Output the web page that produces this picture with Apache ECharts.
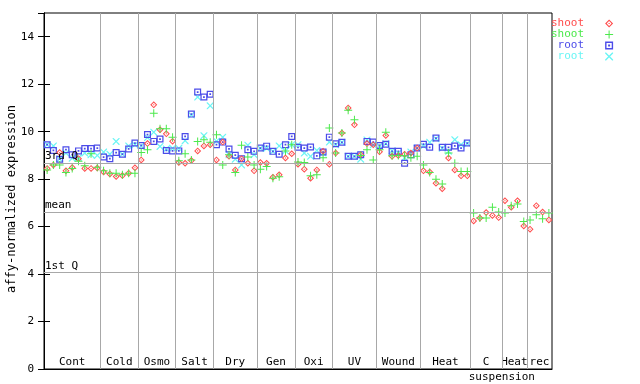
<!DOCTYPE html>
<html>
<head>
<meta charset="utf-8">
<script src="https://cdn.jsdelivr.net/npm/echarts@6/dist/echarts.min.js"></script>
<style>html,body{margin:0;padding:0;background:#fff}#c{width:640px;height:384px}</style>
</head>
<body>
<div id="c"></div>
<script>
// ---- data ----
const groups = ['Cont','Cold','Osmo','Salt','Dry','Gen','Oxi','UV','Wound','Heat','C','Heat','rec'];
const groupSizes = [9,6,6,6,7,6,6,7,7,8,5,4,4];
const subLabel = 'suspension';           // second line under "C"
const refNames = ['3rd Q','mean','1st Q'];
const refValues = [8.68, 6.61, 4.08];
const legendNames = ['shoot','shoot','root','root'];

const shootRed = [
  8.45,8.6,9.12,8.35,8.49,8.86,8.45,8.45,8.47,
  8.30,8.22,8.11,8.15,8.25,8.48,
  8.81,9.5,11.13,10.08,9.91,9.6,
  8.70,8.67,8.78,9.19,9.40,9.45,
  8.81,9.56,8.96,8.39,8.86,8.67,8.35,
  8.70,8.67,8.08,8.18,8.89,9.07,
  8.63,8.42,8.04,8.39,9.18,8.63,
  9.10,9.94,11.0,10.29,9.03,9.5,9.45,
  9.15,9.84,8.96,9.0,9.05,9.1,9.31,
  8.35,8.30,7.83,7.60,8.89,8.39,8.14,8.14,
  6.24,6.36,6.59,6.47,6.38,
  7.09,6.82,7.09,6.03,
  5.89,6.88,6.61,6.28
];
const shootGreen = [
  8.39,8.6,8.6,8.28,8.45,8.75,8.56,9.07,8.5,
  8.35,8.25,8.25,8.18,8.25,8.25,
  9.12,9.24,10.78,10.12,10.12,9.77,
  8.77,9.07,8.81,9.59,9.66,9.55,
  9.87,8.60,9.03,8.28,9.43,8.93,8.60,
  8.42,8.53,8.04,8.10,9.19,9.45,
  8.72,8.70,8.14,8.18,8.9,10.15,
  9.1,9.94,10.9,10.50,9.0,9.24,8.81,
  9.24,9.98,8.98,9.0,8.98,8.9,8.96,
  8.60,8.28,8.00,7.80,9.10,8.67,8.32,8.32,
  6.57,6.36,6.36,6.82,6.61,
  6.57,6.88,6.95,6.21,
  6.28,6.50,6.33,6.57
];
const rootBlue = [
  9.45,9.21,8.84,9.24,9.03,9.19,9.29,9.29,9.31,
  8.93,8.86,9.12,9.05,9.27,9.52,
  9.42,9.88,9.59,9.69,9.21,9.19,
  9.19,9.80,10.74,11.67,11.46,11.58,
  9.45,9.56,9.27,9.01,8.86,9.24,9.17,
  9.31,9.39,9.17,9.05,9.45,9.80,
  9.34,9.31,9.35,8.98,9.14,9.77,
  9.49,9.55,8.96,8.96,9.03,9.59,9.56,
  9.42,9.47,9.17,9.17,8.67,9.03,9.31,
  9.47,9.34,9.73,9.34,9.34,9.40,9.31,9.52,
  null,null,null,null,null,
  null,null,null,null,
  null,null,null,null
];
const rootCyan = [
  9.45,9.40,8.85,9.1,8.88,8.9,9.1,9.03,9.0,
  9.14,9.05,9.59,9.05,9.40,9.45,
  9.4,9.75,9.98,9.38,9.27,9.3,
  9.3,9.62,10.7,11.46,9.83,11.09,
  9.6,9.77,9.03,8.84,8.60,9.43,9.03,
  9.3,9.3,9.17,9.40,9.19,9.45,
  9.45,9.10,8.96,9.21,9.10,9.56,
  9.45,9.55,8.96,8.96,8.84,9.65,9.45,
  9.4,9.5,9.2,9.1,8.9,9.14,9.3,
  9.4,9.55,9.7,9.3,9.17,9.66,9.45,9.5,
  null,null,null,null,null,
  null,null,null,null,
  null,null,null,null
];

// ---- build ----
const FONT = 'DejaVu Sans Mono';
const total = groupSizes.reduce((a,b)=>a+b,0);
const bounds = []; const centers = {};
let acc = 0;
groupSizes.forEach((n,i)=>{ centers[(acc + n/2).toFixed(1)] = groups[i]; acc += n; if (acc < total) bounds.push(acc); });
let cStart = 0; for (let i=0;i<groups.indexOf('C');i++) cStart += groupSizes[i];
const subPos = (cStart + groupSizes[groups.indexOf('C')]).toFixed(1);

const toPts = arr => arr.map((v,i)=> v==null ? null : [i+0.5, v]).filter(p=>p);

const P_DIAMOND = 'path://M4 0L8 4L4 8L0 4Z M4 1.6L1.6 4L4 6.4L6.4 4Z M3.4 3.4L4.6 3.4L4.6 4.6L3.4 4.6Z';
const P_PLUS = 'path://M3.5 0H4.5V3.5H8V4.5H4.5V8H3.5V4.5H0V3.5H3.5Z';
const P_SQUARE = 'path://M0 0H8V8H0Z M1.4 1.4V6.6H6.6V1.4Z M3 3H5V5H3Z';
const P_X = 'path://M0 0L1 0L4 3L7 0L8 0L8 1L5 4L8 7L8 8L7 8L4 5L1 8L0 8L0 7L3 4L0 1Z';

const RED='#ff4c4c', GREEN='#4ce94c', BLUE='#4c4ce9', CYAN='#6cf5f5', GRAY='#a8a8a8';
const names = ['shoot','shoot ','root','root '];

const chart = echarts.init(document.getElementById('c'), null, {renderer:'canvas'});
chart.setOption({
  animation:false,
  backgroundColor:'#fff',
  grid:{left:44, right:88, top:13, bottom:15, outerBoundsMode:'none', containLabel:false,
        show:true, borderColor:'#000', borderWidth:1, backgroundColor:'transparent'},
  legend:{
    orient:'vertical', left:551, top:18, itemWidth:40, itemHeight:8, itemGap:0, align:'right',
    selectedMode:false, padding:0,
    textStyle:{fontFamily:FONT, fontSize:11, lineHeight:11},
    data:[
      {name:names[0], textStyle:{color:RED}},
      {name:names[1], textStyle:{color:GREEN}},
      {name:names[2], textStyle:{color:BLUE}},
      {name:names[3], textStyle:{color:CYAN}}
    ],
    formatter: n => n.trim()
  },
  xAxis:[{
    type:'value', min:0, max:total, interval:0.5,
    axisLine:{show:true, lineStyle:{color:'#000'}},
    axisTick:{show:false}, splitLine:{show:false},
    axisLabel:{inside:true, margin:1, color:'#000', fontFamily:FONT, fontSize:11,
      showMinLabel:true, showMaxLabel:true,
      formatter: v => centers[v.toFixed(1)] || ''}
  },{
    type:'value', min:0, max:total, interval:0.5, position:'bottom',
    axisLine:{show:false}, axisTick:{show:false}, splitLine:{show:false},
    axisLabel:{margin:3, color:'#000', fontFamily:FONT, fontSize:11,
      formatter: v => v.toFixed(1)===subPos ? subLabel : ''}
  }],
  yAxis:[{
    type:'value', min:0, max:15, interval:2, position:'left',
    name:'affy-normalized expression', nameLocation:'middle', nameGap:26, nameMoveOverlap:false,
    nameTextStyle:{fontFamily:FONT, fontSize:12, color:'#000', padding:[0,16,0,0]},
    axisLine:{show:true, lineStyle:{color:'#000'}},
    axisTick:{show:true, inside:true, length:6, lineStyle:{color:'#000'}},
    splitLine:{show:false},
    axisLabel:{margin:10, color:'#000', fontFamily:FONT, fontSize:11, showMaxLabel:false}
  },{
    type:'value', min:0, max:15, interval:2, position:'right',
    axisLine:{show:true, lineStyle:{color:'#000'}},
    axisTick:{show:true, inside:true, length:6, lineStyle:{color:'#000'}},
    splitLine:{show:false}, axisLabel:{show:false}
  }],
  series:[
    {type:'scatter', name:'_ref', data:[], z:1, silent:true,
     markLine:{silent:true, symbol:'none', animation:false,
       lineStyle:{color:GRAY, width:1, type:'solid'},
       data:[
         ...bounds.map(b=>({xAxis:b, label:{show:false}})),
         ...refValues.map((v,i)=>({yAxis:v, label:{show:true, position:'insideStartTop', formatter:refNames[i],
            color:'#000', fontFamily:FONT, fontSize:11, distance:[1,1]}}))
       ]}},
    {type:'scatter', name:names[3], data:toPts(rootCyan), symbol:P_X, symbolSize:7, symbolKeepAspect:true, itemStyle:{color:CYAN, opacity:1}},
    {type:'scatter', name:names[2], data:toPts(rootBlue), symbol:P_SQUARE, symbolSize:7, symbolKeepAspect:true, itemStyle:{color:BLUE, opacity:1}},
    {type:'scatter', name:names[0], data:toPts(shootRed), symbol:P_DIAMOND, symbolSize:7, symbolKeepAspect:true, itemStyle:{color:RED, opacity:1}},
    {type:'scatter', name:names[1], data:toPts(shootGreen), symbol:P_PLUS, symbolSize:8, symbolKeepAspect:true, itemStyle:{color:GREEN, opacity:1}}
  ]
});
</script>
</body>
</html>
